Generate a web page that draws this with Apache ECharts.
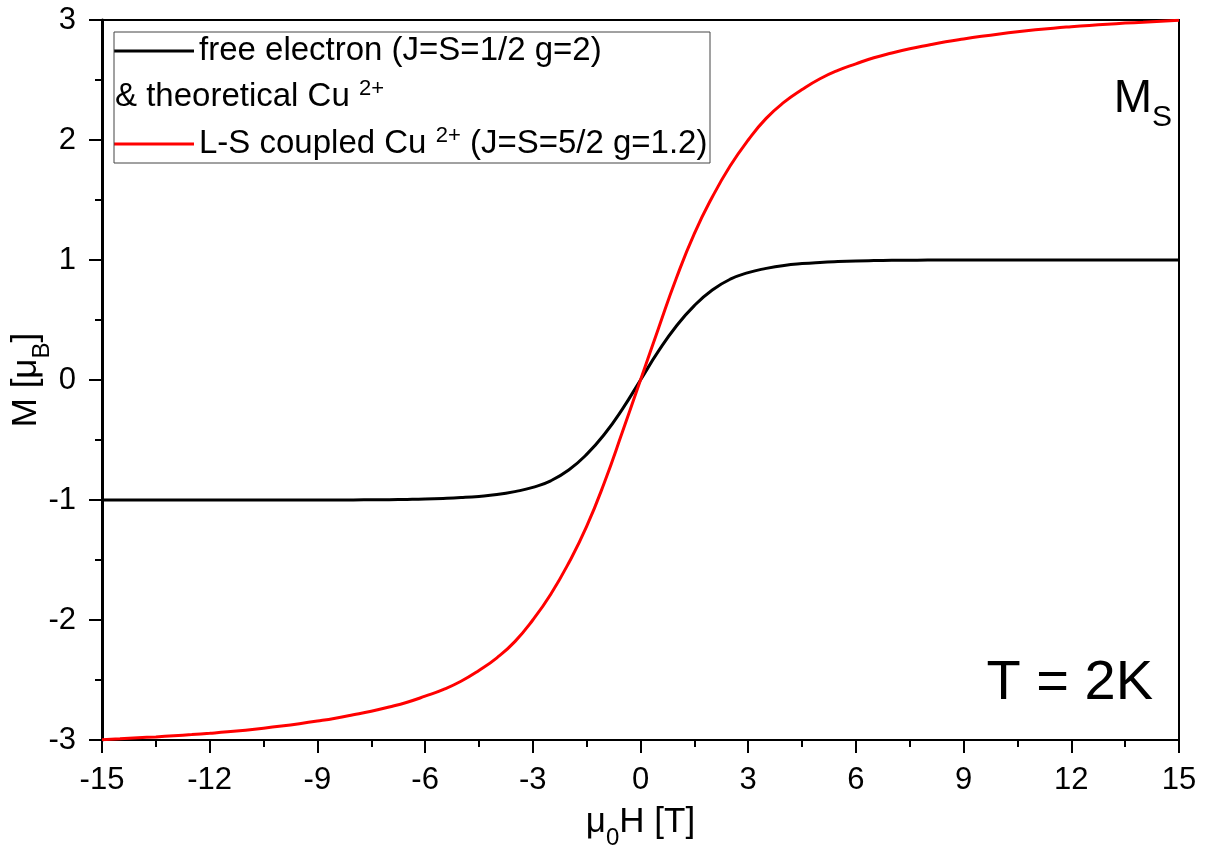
<!DOCTYPE html>
<html>
<head>
<meta charset="utf-8">
<script src="https://cdn.jsdelivr.net/npm/echarts@6/dist/echarts.min.js"></script>
<style>
  html, body { margin: 0; padding: 0; background: #fff; }
  #chart { width: 1216px; height: 846px; }
</style>
</head>
<body>
<div id="chart"></div>
<script>
// Field values (T)
const fieldT = [-15,-14.5,-14,-13.5,-13,-12.5,-12,-11.5,-11,-10.5,-10,-9.5,-9,-8.5,-8,-7.5,-7,-6.5,-6,-5.5,-5,-4.5,-4,-3.5,-3,-2.5,-2,-1.5,-1,-0.5,
  0,0.5,1,1.5,2,2.5,3,3.5,4,4.5,5,5.5,6,6.5,7,7.5,8,8.5,9,9.5,10,10.5,11,11.5,12,12.5,13,13.5,14,14.5,15];
// Free electron (J=S=1/2, g=2) magnetisation [muB]
const freeElectron = [-1,-1,-1,-1,-1,-1,-1,-1,-1,-1,-1,-1,-1,-0.999,-0.999,-0.998,-0.997,-0.995,-0.992,-0.987,-0.98,-0.97,-0.955,-0.93,-0.895,-0.84,-0.75,-0.62,-0.45,-0.24,
  0,0.24,0.45,0.62,0.75,0.84,0.895,0.93,0.955,0.97,0.98,0.987,0.992,0.995,0.997,0.998,0.999,0.999,1,1,1,1,1,1,1,1,1,1,1,1,1];
// L-S coupled Cu2+ (J=S=5/2, g=1.2) magnetisation [muB]
const cuLS = [-2.997,-2.99,-2.982,-2.974,-2.965,-2.955,-2.944,-2.932,-2.918,-2.902,-2.884,-2.864,-2.842,-2.818,-2.79,-2.76,-2.725,-2.685,-2.635,-2.58,-2.51,-2.42,-2.315,-2.18,-2.0,-1.785,-1.525,-1.22,-0.85,-0.43,
  0,0.43,0.85,1.22,1.525,1.785,2.0,2.18,2.315,2.42,2.51,2.58,2.635,2.685,2.725,2.76,2.79,2.818,2.842,2.864,2.884,2.902,2.918,2.932,2.944,2.955,2.965,2.974,2.982,2.99,2.997];

const seriesNames = ['free electron (J=S=1/2 g=2)', 'L-S coupled Cu2+ (J=S=5/2 g=1.2)'];
const legendLabels = ['free electron (J=S=1/2 g=2)', 'L-S coupled Cu {sup|2+} (J=S=5/2 g=1.2)'];
const legendMiddleRow = '& theoretical Cu {sup|2+}';
const xTitle = '{n|\u03bc}{s|0}{n|H [T]}';
const yTitle = '{n|M [\u03bc}{s|B}{n|]}';
const annotMs = '{m|M}{s|S}';
const annotT = 'T = 2K';

const FONT = 'Liberation Sans, Arial, Helvetica, sans-serif';
const chart = echarts.init(document.getElementById('chart'), null, { renderer: 'canvas' });

const pairs = (ys) => fieldT.map((x, i) => [x, ys[i]]);

const axisCommon = {
  type: 'value',
  axisLine: { show: true, onZero: false, lineStyle: { color: '#000', width: 2 } },
  axisTick: { show: true, inside: false, length: 13, lineStyle: { color: '#000', width: 2 } },
  minorTick: { show: true, splitNumber: 2, length: 7, lineStyle: { color: '#000', width: 2 } },
  splitLine: { show: false },
  minorSplitLine: { show: false },
  nameMoveOverlap: false
};

const titleRich = {
  n: { fontSize: 35, lineHeight: 56, fontFamily: FONT, color: '#000' },
  s: { fontSize: 24, lineHeight: 24, verticalAlign: 'bottom', fontFamily: FONT, color: '#000' }
};

const option = {
  animation: false,
  backgroundColor: '#fff',
  textStyle: { fontFamily: FONT, color: '#000' },
  grid: { left: 102, right: 37, top: 20, bottom: 106, containLabel: false, outerBoundsMode: 'none',
          show: true, borderColor: '#000', borderWidth: 2, backgroundColor: 'transparent' },
  xAxis: Object.assign({}, axisCommon, {
    min: -15, max: 15, interval: 3,
    axisLabel: { fontSize: 31, color: '#000', margin: 25, fontFamily: FONT, showMinLabel: true, showMaxLabel: true },
    name: xTitle, nameLocation: 'middle', nameGap: 54,
    nameTextStyle: { fontFamily: FONT, color: '#000', rich: titleRich }
  }),
  yAxis: Object.assign({}, axisCommon, {
    min: -3, max: 3, interval: 1,
    axisLine: { show: true, onZero: false, lineStyle: { color: '#000', width: 3 } },
    axisLabel: { fontSize: 31, color: '#000', margin: 26, fontFamily: FONT, showMinLabel: true, showMaxLabel: true },
    name: yTitle, nameLocation: 'middle', nameGap: 48,
    nameTextStyle: { fontFamily: FONT, color: '#000', rich: titleRich }
  }),
  legend: {
    orient: 'vertical', left: 114, top: 32,
    padding: [0, 5, 0, 0],
    itemWidth: 80, itemHeight: 3, itemGap: 55,
    icon: 'rect',
    data: seriesNames,
    formatter: (name) => legendLabels[seriesNames.indexOf(name)],
    textStyle: {
      fontSize: 33, lineHeight: 38, color: '#000', fontFamily: FONT,
      rich: { sup: { fontSize: 22, lineHeight: 22, verticalAlign: 'top', color: '#000', fontFamily: FONT } }
    },
    selectedMode: false
  },
  graphic: [
    { type: 'rect', shape: { x: 114, y: 32, width: 596, height: 131 }, style: { fill: 'none', stroke: '#444', lineWidth: 1 }, z: 10 },
    { type: 'text', x: 115, y: 97, z: 10,
      style: { text: legendMiddleRow, fill: '#000', align: 'left', verticalAlign: 'middle',
        fontSize: 33, lineHeight: 38, fontFamily: FONT,
        rich: { sup: { fontSize: 22, lineHeight: 22, verticalAlign: 'top', fill: '#000', fontFamily: FONT } } } },
    { type: 'text', x: 1172, y: 99, z: 10,
      style: { text: annotMs, fill: '#000', align: 'right', verticalAlign: 'middle', fontFamily: FONT,
        rich: { m: { fontSize: 46, lineHeight: 68, fontFamily: FONT, fill: '#000' },
                s: { fontSize: 30, lineHeight: 30, verticalAlign: 'bottom', fontFamily: FONT, fill: '#000' } } } },
    { type: 'text', x: 1153, y: 684, z: 10,
      style: { text: annotT, fill: '#000', align: 'right', verticalAlign: 'middle', fontSize: 56, fontFamily: FONT } }
  ],
  series: [
    { name: seriesNames[0], type: 'line', data: pairs(freeElectron), showSymbol: false, smooth: 0.5,
      lineStyle: { color: '#000', width: 3 }, itemStyle: { color: '#000' }, clip: true, z: 3 },
    { name: seriesNames[1], type: 'line', data: pairs(cuLS), showSymbol: false, smooth: 0.5,
      lineStyle: { color: '#ff0000', width: 3 }, itemStyle: { color: '#ff0000' }, clip: true, z: 4 }
  ]
};
chart.setOption(option);
</script>
</body>
</html>
